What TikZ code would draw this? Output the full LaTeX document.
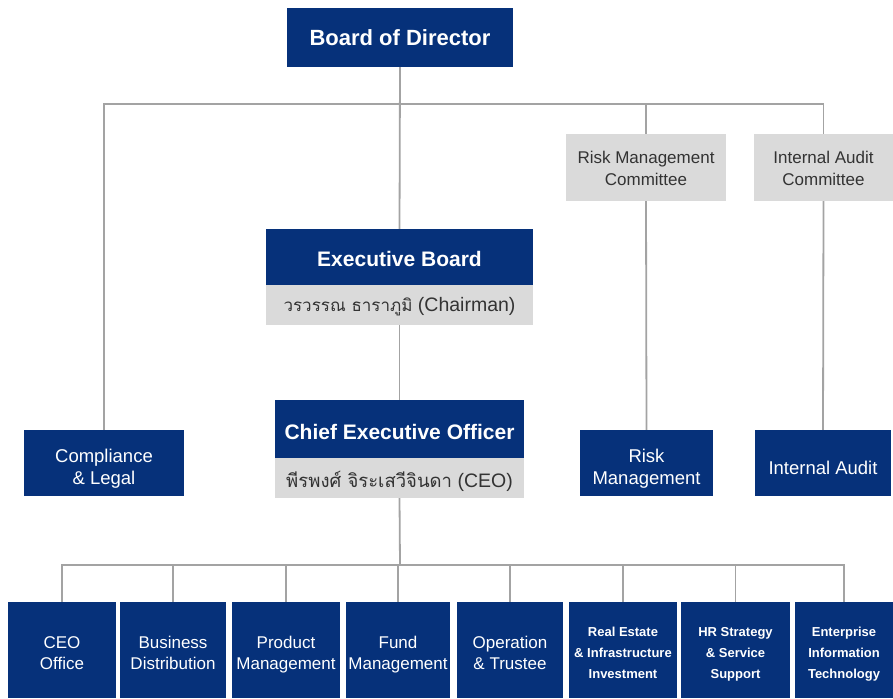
\documentclass[tikz,border=0pt]{standalone}
\usepackage{fontspec}
\setmainfont{Liberation Sans}
\newfontfamily\thaifont[Script=Thai]{Loma}
\definecolor{navy}{HTML}{06317A}
\definecolor{lgray}{HTML}{DADADA}
\definecolor{lnc}{HTML}{A3A3A3}
\definecolor{tgray}{HTML}{333333}
% shift text down inside a box without changing the box
\newcommand\lowr[2]{\raisebox{-#1}[\height][\depth]{#2}}
\newcommand\lowt[2]{\raisebox{-#1}[\height][\depth]{\begin{tabular}{@{}c@{}}#2\end{tabular}}}
\begin{document}
\begin{tikzpicture}[x=1pt,y=-1pt,
  navybox/.style={fill=navy,text=white,inner sep=0pt,align=center,font=\fontsize{17}{21}\selectfont},
  graybox/.style={fill=lgray,text=tgray,inner sep=0pt,align=center,font=\fontsize{17}{22}\selectfont},
  namebox/.style={graybox,font=\fontsize{19.5}{22}\selectfont},
  headbox/.style={navybox,font=\fontsize{21}{24}\selectfont\bfseries},
  midbox/.style={navybox,font=\fontsize{18.5}{22}\selectfont},
  lowbox/.style={navybox,minimum height=96pt,font=\fontsize{17}{21}\selectfont},
  smallbox/.style={lowbox,font=\fontsize{13}{21}\selectfont\bfseries},
  conn/.style={draw=lnc,line width=1.8pt}
]
\useasboundingbox (0,0) rectangle (893,698);
% top
\node[headbox,minimum width=226pt,minimum height=59pt,font=\fontsize{22}{24}\selectfont\bfseries] (bod) at (400,37.5) {Board of Director};
\node[graybox,minimum width=160pt,minimum height=67pt] (rmc) at (646,167.5) {\lowt{3pt}{Risk Management\\Committee}};
\node[graybox,minimum width=139pt,minimum height=67pt] (iac) at (823.5,167.5) {\lowt{3pt}{Internal Audit\\Committee}};
% executive board
\node[headbox,minimum width=267pt,minimum height=56pt] (eb) at (399.5,257) {\lowr{2pt}{Executive Board}};
\node[namebox,minimum width=267pt,minimum height=40pt] (ebn) at (399.5,305) {\lowr{2pt}{{\thaifont\fontsize{17}{20}\selectfont วรวรรณ ธาราภูมิ} (Chairman)}};
% CEO
\node[headbox,minimum width=249pt,minimum height=58pt] (ceo) at (399.5,429) {\lowr{3pt}{Chief Executive Officer}};
\node[namebox,minimum width=249pt,minimum height=40pt] (ceon) at (399.5,478) {\lowr{3pt}{{\thaifont\fontsize{18.5}{20}\selectfont พีรพงศ์ จิระเสวีจินดา} (CEO)}};
% middle row
\node[midbox,minimum width=160pt,minimum height=66pt] (cl) at (104,463) {\lowt{6pt}{Compliance\\\& Legal}};
\node[midbox,minimum width=133pt,minimum height=66pt] (rm) at (646.5,463) {\lowt{6pt}{Risk\\Management}};
\node[midbox,minimum width=136pt,minimum height=66pt] (ia) at (823,463) {\lowr{5pt}{Internal Audit}};
% bottom row
\node[lowbox,minimum width=108pt] (b1) at (62,650) {\lowt{5pt}{CEO\\Office}};
\node[lowbox,minimum width=106pt] (b2) at (173,650) {\lowt{5pt}{Business\\Distribution}};
\node[lowbox,minimum width=108pt] (b3) at (286,650) {\lowt{5pt}{Product\\Management}};
\node[lowbox,minimum width=104pt] (b4) at (398,650) {\lowt{5pt}{Fund\\Management}};
\node[lowbox,minimum width=106pt] (b5) at (510,650) {\lowt{5pt}{Operation\\\& Trustee}};
\node[smallbox,minimum width=108pt] (b6) at (623,650) {\lowt{3.5pt}{Real Estate\\\& Infrastructure\\Investment}};
\node[smallbox,minimum width=109pt] (b7) at (735.5,650) {\lowt{3.5pt}{HR Strategy\\\& Service\\Support}};
\node[smallbox,minimum width=98pt] (b8) at (844,650) {\lowt{3.5pt}{Enterprise\\Information\\Technology}};
% hubs
\coordinate (top) at (400,104);
\coordinate (bus) at (400,565);
% connectors
\draw[conn] (bod.south) -- (eb.north);
\draw[conn] (cl.north) |- (top) -| (iac.north);
\draw[conn] (rmc.north) -- (rmc.north |- top);
\draw[conn] (rmc.south) -- (rm.north);
\draw[conn] (iac.south) -- (ia.north);
\draw[conn] (ebn.south) -- (ceo.north);
\draw[conn] (ceon.south) -- (bus);
\draw[conn] (b1.north) |- (bus) -| (b8.north);
\foreach \b in {b2,b3,b4,b5,b6,b7} \draw[conn] (\b.north) -- (\b.north |- bus);
\end{tikzpicture}
\end{document}
